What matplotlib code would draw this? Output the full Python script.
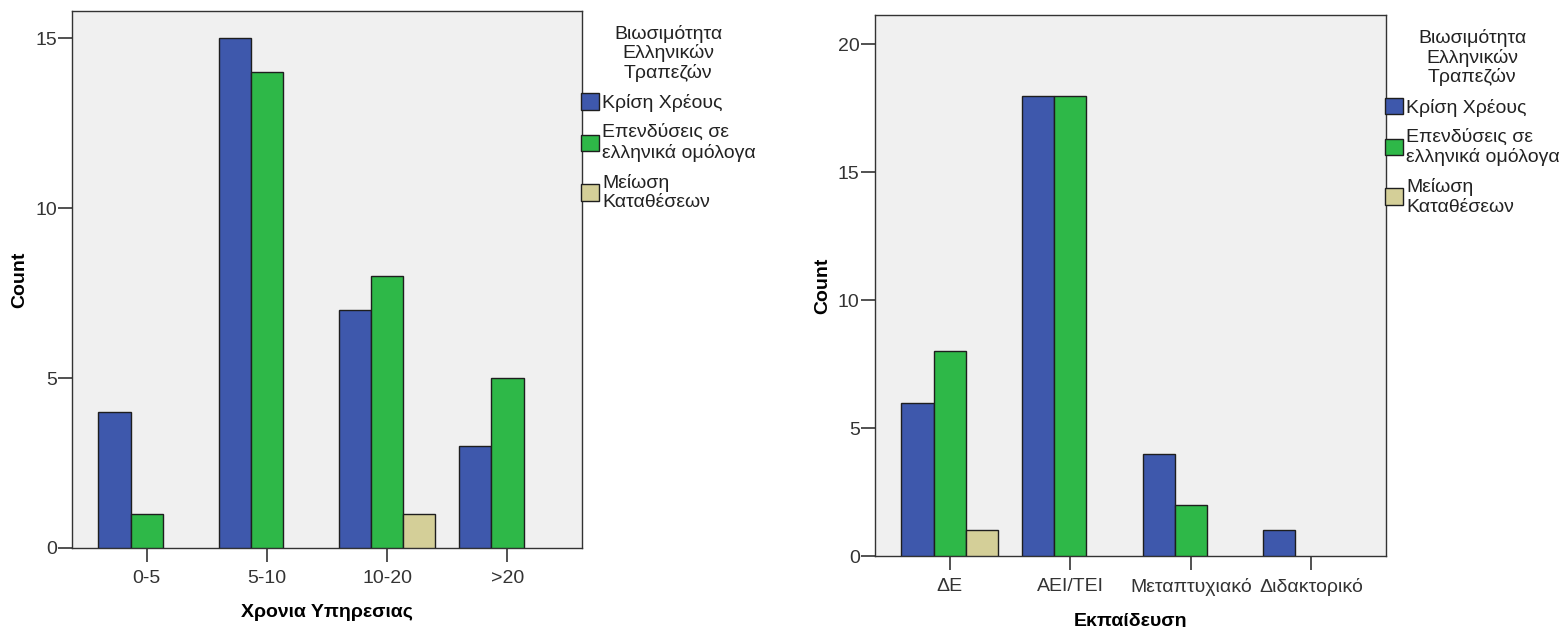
import matplotlib.pyplot as plt
import numpy as np

plt.rcParams['font.family'] = ['Liberation Sans', 'DejaVu Sans']

# Δεδομένα
series = ['Κρίση Χρέους', 'Επενδύσεις σε\nελληνικά ομόλογα', 'Μείωση\nΚαταθέσεων']
colors = ['#3E58AC', '#2EB848', '#D4CF98']
legend_title = 'Βιωσιμότητα\nΕλληνικών\nΤραπεζών'

years_cats = ['0-5', '5-10', '10-20', '>20']
years_krisi = [4, 15, 7, 3]
years_ependyseis = [1, 14, 8, 5]
years_meiosi = [0, 0, 1, 0]

edu_cats = ['ΔΕ', 'ΑΕΙ/ΤΕΙ', 'Μεταπτυχιακό', 'Διδακτορικό']
edu_krisi = [6, 18, 4, 1]
edu_ependyseis = [8, 18, 2, 0]
edu_meiosi = [1, 0, 0, 0]

FS = 14


def draw(ax, cats, values, xlabel, ymax, yticks):
    x = np.arange(len(cats))
    w = 0.267
    handles = []
    for i, (vals, col) in enumerate(zip(values, colors)):
        vals = np.array(vals, dtype=float)
        mask = vals > 0
        ax.bar(x[mask] + (i - 1) * w, vals[mask], width=w, color=col,
               edgecolor='#1e1e1e', linewidth=1.0, zorder=3)
        handles.append(plt.Rectangle((0, 0), 1, 1, facecolor=col,
                                     edgecolor='#1e1e1e', linewidth=1.0))
    ax.set_facecolor('#F0F0F0')
    ax.set_xlim(-0.62, len(cats) - 1 + 0.62)
    ax.set_ylim(0, ymax)
    ax.set_xticks(x)
    ax.set_xticklabels(cats, fontsize=FS, color='#333333')
    ax.set_yticks(yticks)
    ax.set_yticklabels([str(t) for t in yticks], fontsize=FS, color='#333333')
    ax.tick_params(axis='x', direction='out', length=10, width=1.2, color='#333333', pad=6)
    ax.tick_params(axis='y', direction='out', length=10, width=1.2, color='#333333', pad=1)
    for s in ax.spines.values():
        s.set_color('#333333')
        s.set_linewidth(1.0)
    ax.set_xlabel(xlabel, fontsize=FS, fontweight='bold', labelpad=12)
    ax.set_ylabel('Count', fontsize=FS, fontweight='bold', labelpad=5)
    leg = ax.legend(handles, series, title=legend_title, loc='upper left',
                    bbox_to_anchor=(0.997, 0.974), frameon=False, fontsize=FS,
                    title_fontsize=FS, handlelength=0.95, handleheight=0.95,
                    handletextpad=0.15, labelspacing=0.6, borderaxespad=0,
                    borderpad=0)
    leg.get_title().set_multialignment('center')
    leg.get_title().set_color('#222222')
    leg.get_title().set_linespacing(1.1)
    for t in leg.get_texts():
        t.set_color('#222222')
        t.set_linespacing(1.2)


fig = plt.figure(figsize=(15.63, 6.27), dpi=100)
ax1 = fig.add_axes([0.0461, 0.126, 0.3263, 0.8565])
ax2 = fig.add_axes([0.5598, 0.1132, 0.327, 0.8628])

draw(ax1, years_cats, [years_krisi, years_ependyseis, years_meiosi],
     'Χρονια Υπηρεσιας', 15.8, [0, 5, 10, 15])
draw(ax2, edu_cats, [edu_krisi, edu_ependyseis, edu_meiosi],
     'Εκπαίδευση', 21.15, [0, 5, 10, 15, 20])

fig.savefig('out.png', dpi=100)
